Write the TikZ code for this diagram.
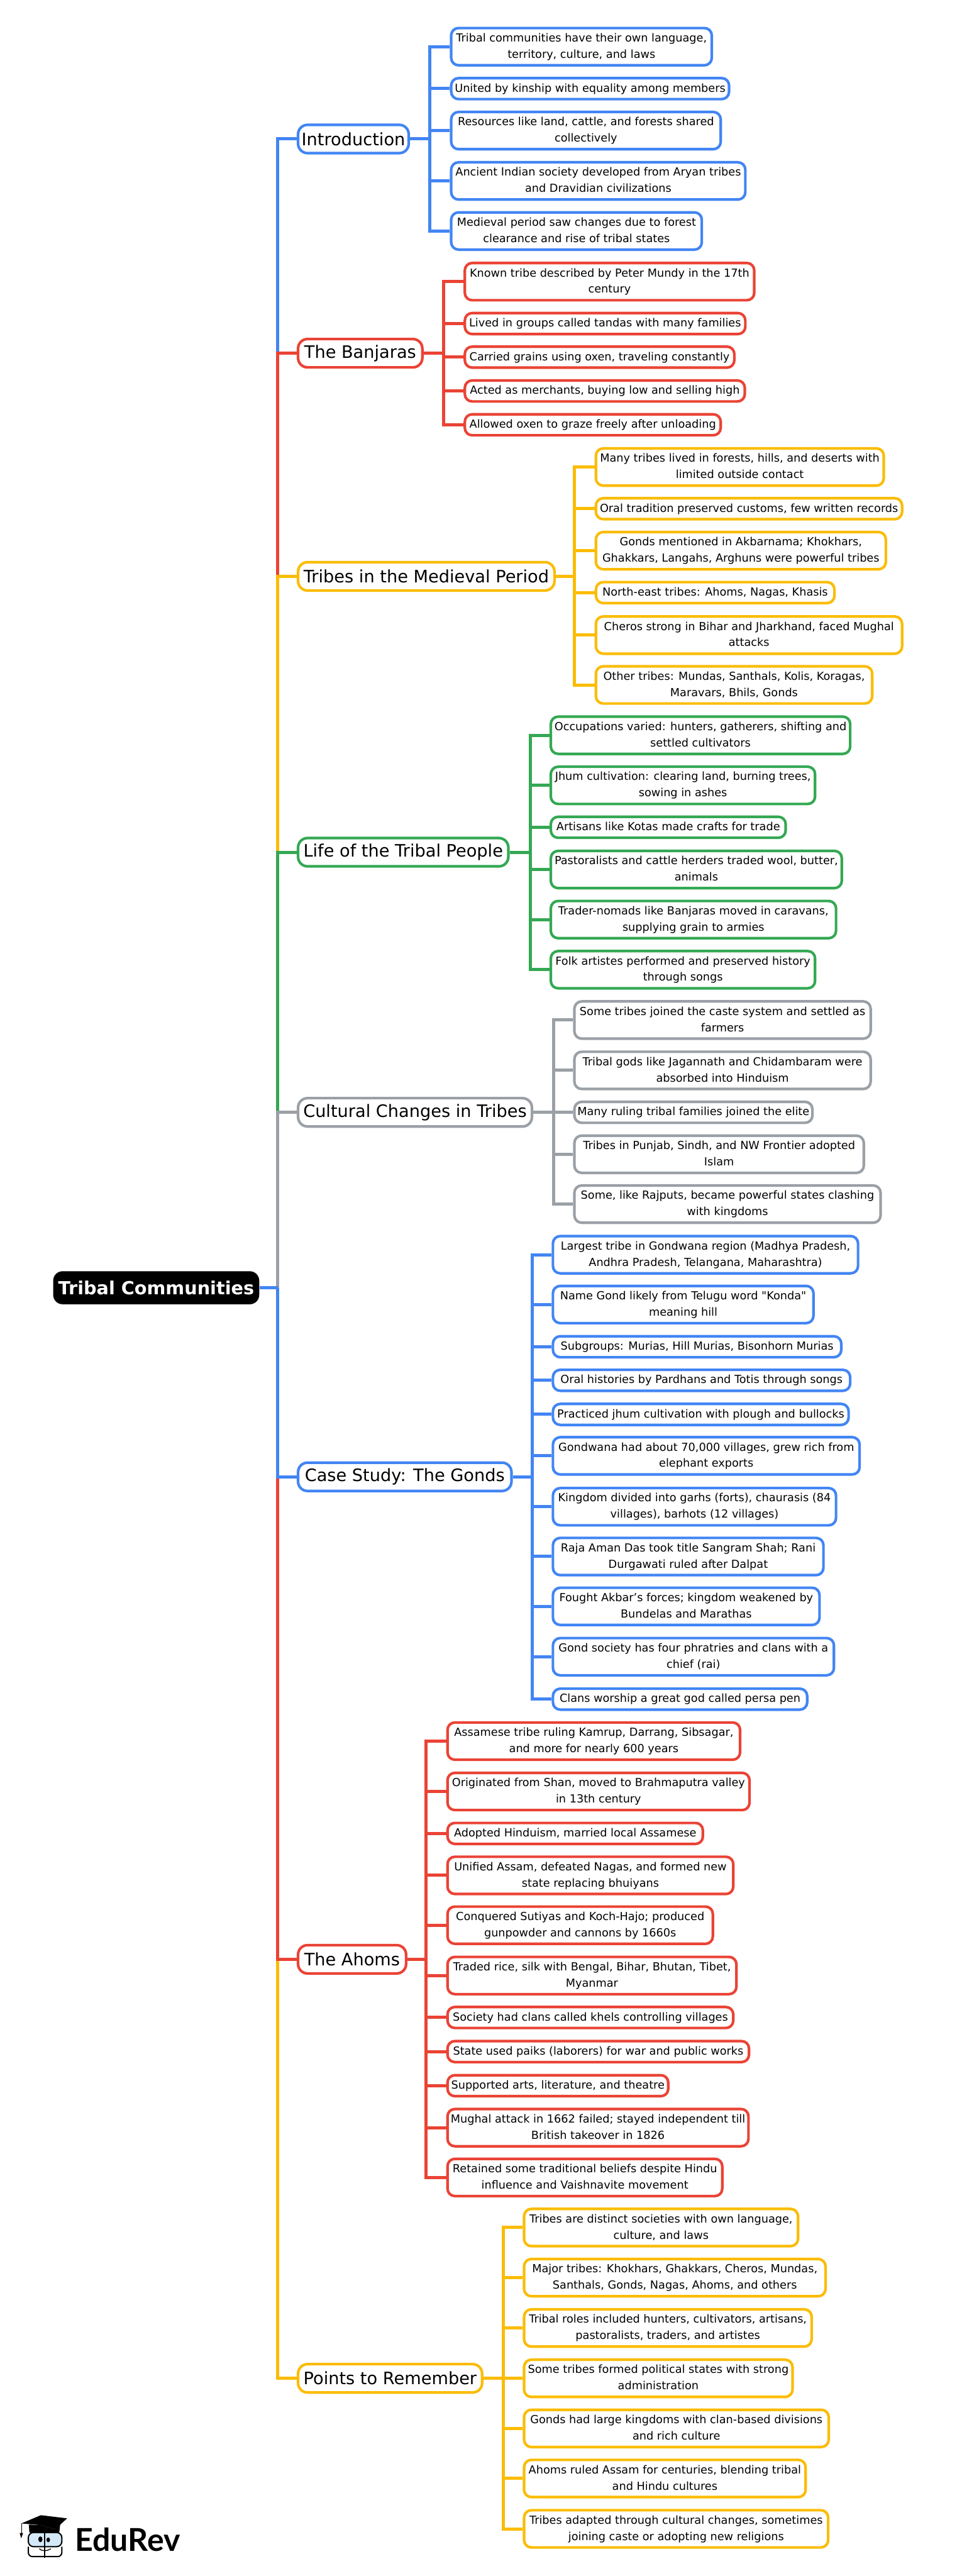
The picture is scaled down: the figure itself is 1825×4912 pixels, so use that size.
\documentclass[tikz,border=0pt]{standalone}
\usepackage{fontspec}
\usetikzlibrary{positioning}
\newfontfamily\treefont{DejaVu Sans}
\newfontfamily\logofont{Lato}
\definecolor{gblue}{HTML}{4285F4}
\definecolor{gred}{HTML}{EA4335}
\definecolor{gyellow}{HTML}{FBBC04}
\definecolor{ggreen}{HTML}{34A853}
\definecolor{ggray}{HTML}{9AA0A6}
\definecolor{lensblue}{HTML}{D3E9FA}
\tikzset{
  wire/.style={draw=#1, line width=3pt},
  leaf/.style={draw=#1, fill=white, line width=2.5pt, rounded corners=7pt, anchor=west, align=center,
    inner xsep=1pt, inner ysep=2.25pt, font=\treefont\fontsize{10.6}{15.5}\selectfont},
  branch/.style={draw=#1, fill=white, line width=2.5pt, rounded corners=9pt, anchor=west, align=center,
    inner xsep=1pt, inner ysep=0pt, minimum height=27pt, font=\treefont\fontsize{16.3}{20}\selectfont},
  topic/.style={fill=black, text=white, rounded corners=9pt, anchor=west, inner xsep=1pt, inner ysep=0pt,
    minimum height=31.5pt, font=\treefont\bfseries\fontsize{17.2}{21}\selectfont}
}

\begin{document}
\begin{tikzpicture}[x=0.5pt, y=-0.5pt]
  \useasboundingbox (0, 0) rectangle (1825, 4912);

  \node[topic, minimum width=196.5pt] (root) at (101, 2455.5) {Tribal Communities};
  \coordinate (trunk) at (530, 2455.5);

  \node[branch=gblue, minimum width=105.5pt] (intro) at (566, 265) {Introduction};
  \node[branch=gred, minimum width=118.5pt] (banjaras) at (566, 673.5) {The Banjaras};
  \node[branch=gyellow, minimum width=244.5pt] (medieval) at (566, 1099) {Tribes in the Medieval Period};
  \node[branch=ggreen, minimum width=200.5pt] (life) at (566, 1625) {Life of the Tribal People};
  \node[branch=ggray, minimum width=223pt] (cultural) at (566, 2121) {Cultural Changes in Tribes};
  \node[branch=gblue, minimum width=203.5pt] (gonds) at (566, 2816) {Case Study: The Gonds};
  \node[branch=gred, minimum width=103pt] (ahoms) at (566, 3736) {The Ahoms};
  \node[branch=gyellow, minimum width=175.5pt] (points) at (566, 4535) {Points to Remember};

  % trunk, the far ends first so the nearer colours lie on top
  \foreach \nm/\col in {intro/gblue, banjaras/gred, medieval/gyellow, life/ggreen, cultural/ggray,
                        points/gyellow, ahoms/gred, gonds/gblue} {
    \draw[wire=\col] (trunk) |- (\nm.west);
  }
  \draw[wire=gblue] (root.east) -- (trunk);

  \coordinate (introbus) at (820, 265);
  \draw[wire=gblue] (intro.east) -- (introbus);
  \foreach \nm/\y/\w/\txt in {
    intro1/89/502/{Tribal communities have their own language,\\territory, culture, and laws},
    intro2/169/535/{United by kinship with equality among members},
    intro3/249/519/{Resources like land, cattle, and forests shared\\collectively},
    intro4/345/566/{Ancient Indian society developed from Aryan tribes\\and Dravidian civilizations},
    intro5/440.5/483/{Medieval period saw changes due to forest\\clearance and rise of tribal states}} {
    \node[leaf=gblue, minimum width=\w*0.5pt-2.5pt] (\nm) at (858, \y) {\strut\txt\strut};
    \draw[wire=gblue] (introbus) |- (\nm.west);
  }

  \coordinate (banjarasbus) at (846, 673.5);
  \draw[wire=gred] (banjaras.east) -- (banjarasbus);
  \foreach \nm/\y/\w/\txt in {
    banjaras1/537/557/{Known tribe described by Peter Mundy in the 17th\\century},
    banjaras2/617/540/{Lived in groups called tandas with many families},
    banjaras3/681/519/{Carried grains using oxen, traveling constantly},
    banjaras4/745.5/539/{Acted as merchants, buying low and selling high},
    banjaras5/810/493/{Allowed oxen to graze freely after unloading}} {
    \node[leaf=gred, minimum width=\w*0.5pt-2.5pt] (\nm) at (884, \y) {\strut\txt\strut};
    \draw[wire=gred] (banjarasbus) |- (\nm.west);
  }

  \coordinate (medievalbus) at (1096, 1099);
  \draw[wire=gyellow] (medieval.east) -- (medievalbus);
  \foreach \nm/\y/\w/\txt in {
    medieval1/890.5/554/{Many tribes lived in forests, hills, and deserts with\\limited outside contact},
    medieval2/970/589/{Oral tradition preserved customs, few written records},
    medieval3/1050/558/{Gonds mentioned in Akbarnama; Khokhars,\\Ghakkars, Langahs, Arghuns were powerful tribes},
    medieval4/1130/460/{North-east tribes: Ahoms, Nagas, Khasis},
    medieval5/1211/589/{Cheros strong in Bihar and Jharkhand, faced Mughal\\attacks},
    medieval6/1306/532/{Other tribes: Mundas, Santhals, Kolis, Koragas,\\Maravars, Bhils, Gonds}} {
    \node[leaf=gyellow, minimum width=\w*0.5pt-2.5pt] (\nm) at (1134, \y) {\strut\txt\strut};
    \draw[wire=gyellow] (medievalbus) |- (\nm.west);
  }

  \coordinate (lifebus) at (1011, 1625);
  \draw[wire=ggreen] (life.east) -- (lifebus);
  \foreach \nm/\y/\w/\txt in {
    life1/1402/576/{Occupations varied: hunters, gatherers, shifting and\\settled cultivators},
    life2/1497.5/509/{Jhum cultivation: clearing land, burning trees,\\sowing in ashes},
    life3/1577.5/453/{Artisans like Kotas made crafts for trade},
    life4/1658/560/{Pastoralists and cattle herders traded wool, butter,\\animals},
    life5/1753.5/549/{Trader-nomads like Banjaras moved in caravans,\\supplying grain to armies},
    life6/1849/509/{Folk artistes performed and preserved history\\through songs}} {
    \node[leaf=ggreen, minimum width=\w*0.5pt-2.5pt] (\nm) at (1048, \y) {\strut\txt\strut};
    \draw[wire=ggreen] (lifebus) |- (\nm.west);
  }

  \coordinate (culturalbus) at (1056, 2121);
  \draw[wire=ggray] (cultural.east) -- (culturalbus);
  \foreach \nm/\y/\w/\txt in {
    cultural1/1945/570/{Some tribes joined the caste system and settled as\\farmers},
    cultural2/2041/570/{Tribal gods like Jagannath and Chidambaram were\\absorbed into Hinduism},
    cultural3/2121/459/{Many ruling tribal families joined the elite},
    cultural4/2201/557/{Tribes in Punjab, Sindh, and NW Frontier adopted\\Islam},
    cultural5/2296/589/{Some, like Rajputs, became powerful states clashing\\with kingdoms}} {
    \node[leaf=ggray, minimum width=\w*0.5pt-2.5pt] (\nm) at (1093, \y) {\strut\txt\strut};
    \draw[wire=ggray] (culturalbus) |- (\nm.west);
  }

  \coordinate (gondsbus) at (1015, 2816);
  \draw[wire=gblue] (gonds.east) -- (gondsbus);
  \foreach \nm/\y/\w/\txt in {
    gonds1/2392.5/587/{Largest tribe in Gondwana region (Madhya Pradesh,\\Andhra Pradesh, Telangana, Maharashtra)},
    gonds2/2487.5/502/{Name Gond likely from Telugu word "Konda"\\meaning hill},
    gonds3/2568/555/{Subgroups: Murias, Hill Murias, Bisonhorn Murias},
    gonds4/2632/572/{Oral histories by Pardhans and Totis through songs},
    gonds5/2697/569/{Practiced jhum cultivation with plough and bullocks},
    gonds6/2776/590/{Gondwana had about 70,000 villages, grew rich from\\elephant exports},
    gonds7/2873/545/{Kingdom divided into garhs (forts), chaurasis (84\\villages), barhots (12 villages)},
    gonds8/2968/521/{Raja Aman Das took title Sangram Shah; Rani\\Durgawati ruled after Dalpat},
    gonds9/3063/513.5/{Fought Akbar’s forces; kingdom weakened by\\Bundelas and Marathas},
    gonds10/3159/541/{Gond society has four phratries and clans with a\\chief (rai)},
    gonds11/3240/490/{Clans worship a great god called persa pen}} {
    \node[leaf=gblue, minimum width=\w*0.5pt-2.5pt] (\nm) at (1052, \y) {\strut\txt\strut};
    \draw[wire=gblue] (gondsbus) |- (\nm.west);
  }

  \coordinate (ahomsbus) at (813, 3736);
  \draw[wire=gred] (ahoms.east) -- (ahomsbus);
  \foreach \nm/\y/\w/\txt in {
    ahoms1/3320/563/{Assamese tribe ruling Kamrup, Darrang, Sibsagar,\\and more for nearly 600 years},
    ahoms2/3416/581/{Originated from Shan, moved to Brahmaputra valley\\in 13th century},
    ahoms3/3496/492/{Adopted Hinduism, married local Assamese},
    ahoms4/3576/550/{Unified Assam, defeated Nagas, and formed new\\state replacing bhuiyans},
    ahoms5/3671/511/{Conquered Sutiyas and Koch-Hajo; produced\\gunpowder and cannons by 1660s},
    ahoms6/3767/556/{Traded rice, silk with Bengal, Bihar, Bhutan, Tibet,\\Myanmar},
    ahoms7/3847/550/{Society had clans called khels controlling villages},
    ahoms8/3912/580/{State used paiks (laborers) for war and public works},
    ahoms9/3977/426/{Supported arts, literature, and theatre},
    ahoms10/4057/579/{Mughal attack in 1662 failed; stayed independent till\\British takeover in 1826},
    ahoms11/4152/529/{Retained some traditional beliefs despite Hindu\\influence and Vaishnavite movement}} {
    \node[leaf=gred, minimum width=\w*0.5pt-2.5pt] (\nm) at (851, \y) {\strut\txt\strut};
    \draw[wire=gred] (ahomsbus) |- (\nm.west);
  }

  \coordinate (pointsbus) at (960, 4535);
  \draw[wire=gyellow] (points.east) -- (pointsbus);
  \foreach \nm/\y/\w/\txt in {
    points1/4247.5/527.5/{Tribes are distinct societies with own language,\\culture, and laws},
    points2/4343/580/{Major tribes: Khokhars, Ghakkars, Cheros, Mundas,\\Santhals, Gonds, Nagas, Ahoms, and others},
    points3/4439/553.5/{Tribal roles included hunters, cultivators, artisans,\\pastoralists, traders, and artistes},
    points4/4535/517/{Some tribes formed political states with strong\\administration},
    points5/4630.5/586/{Gonds had large kingdoms with clan-based divisions\\and rich culture},
    points6/4726/542/{Ahoms ruled Assam for centuries, blending tribal\\and Hindu cultures},
    points7/4822/585/{Tribes adapted through cultural changes, sometimes\\joining caste or adopting new religions}} {
    \node[leaf=gyellow, minimum width=\w*0.5pt-2.5pt] (\nm) at (997, \y) {\strut\txt\strut};
    \draw[wire=gyellow] (pointsbus) |- (\nm.west);
  }

  % logo
  \fill (40.7, 4811.7) -- (78, 4796) -- (128, 4802) -- (105, 4823) -- (78, 4815) -- cycle;
  \fill (55, 4814) -- (78, 4815) -- (105, 4823) -- (115, 4812) -- (113, 4829) -- (56, 4829) -- cycle;
  \draw[line width=0.5pt] (40.7, 4811.7) -- (40.7, 4830);
  \fill (37.5, 4830) -- (44, 4830) -- (40.5, 4840) -- cycle;
  \draw[line width=1.2pt, rounded corners=4pt] (54, 4856) -- (54, 4875) -- (118, 4875) -- (118, 4856);
  \filldraw[fill=lensblue, line width=1.2pt, rounded corners=5pt] (54, 4829) rectangle (118, 4856);
  \draw[line width=1.2pt] (85, 4829) -- (85, 4877);
  \fill (77, 4842) ellipse (4 and 5.5);
  \fill (92, 4843) ellipse (3.5 and 4.5);
  \draw[line width=0.8pt] (75, 4860) .. controls (80, 4865) and (90, 4865) .. (97, 4860);
  \node[anchor=base west, inner sep=0pt, font=\logofont\bfseries\fontsize{30}{30}\selectfont] (logo) at (143, 4864) {EduRev};
\end{tikzpicture}
\end{document}
